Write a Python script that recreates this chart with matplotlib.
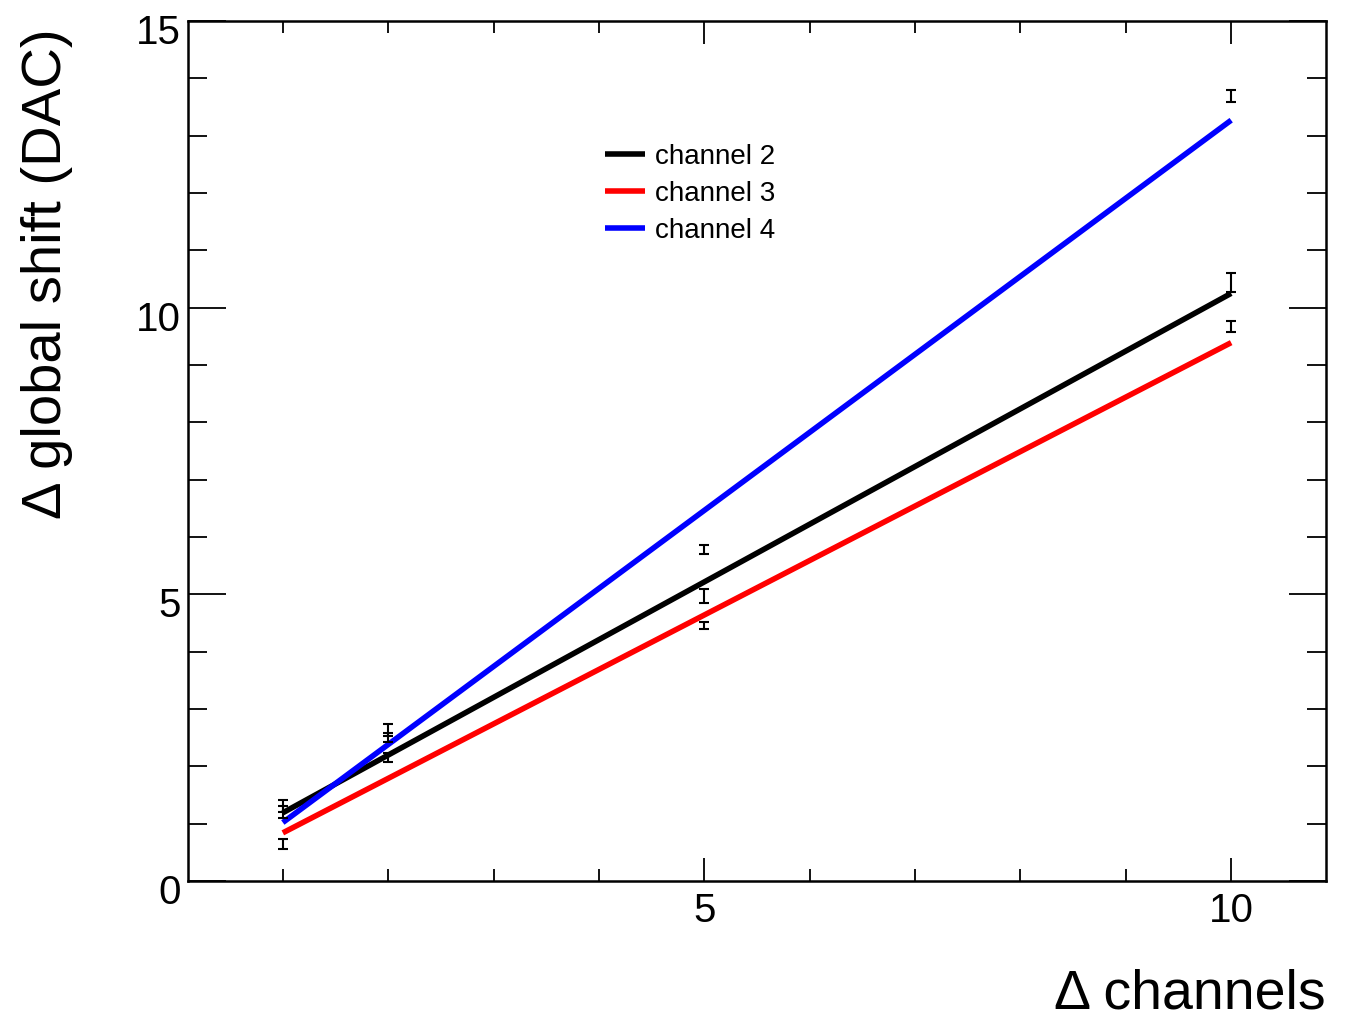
import matplotlib.pyplot as plt
import matplotlib.transforms as mtransforms
from matplotlib.ticker import MultipleLocator

plt.rcParams['font.family'] = ['Liberation Sans', 'DejaVu Sans']

# measured points (delta channels vs delta global shift)
x_pts = [1, 2, 5, 10]
ch2_pts = [1.20, 2.50, 4.97, 10.44]
ch2_err = [0.10, 0.08, 0.12, 0.16]
ch3_pts = [0.645, 2.15, 4.45, 9.67]
ch3_err = [0.08, 0.08, 0.06, 0.10]
ch4_pts = [1.31, 2.63, 5.78, 13.69]
ch4_err = [0.10, 0.10, 0.08, 0.10]

# linear fits, drawn between x = 1 and x = 10
fit_x = [1, 10]
ch2_fit = [1.19, 10.25]
ch3_fit = [0.84, 9.39]
ch4_fit = [1.02, 13.27]

fig = plt.figure(figsize=(13.56, 10.22), dpi=100)
ax = fig.add_axes([188/1356, 1-881/1022, (1326-188)/1356, (881-21)/1022])

ax.plot(fit_x, ch2_fit, color='black', lw=4, label='channel 2', solid_capstyle='butt')
ax.plot(fit_x, ch3_fit, color='#ff0000', lw=4, label='channel 3', solid_capstyle='butt')
ax.plot(fit_x, ch4_fit, color='#0000ff', lw=4, label='channel 4', solid_capstyle='butt')

for pts, err in [(ch2_pts, ch2_err), (ch3_pts, ch3_err), (ch4_pts, ch4_err)]:
    ax.errorbar(x_pts, pts, yerr=err, fmt='none', ecolor='black',
                elinewidth=1.5, capsize=3.6, capthick=1.5, zorder=3)

ax.set_xlim(0.1, 10.9)
ax.set_ylim(0, 15)
ax.xaxis.set_minor_locator(MultipleLocator(1))
ax.yaxis.set_minor_locator(MultipleLocator(1))
ax.set_xticks([5, 10])
ax.set_yticks([0, 5, 10, 15])

ax.tick_params(axis='x', which='major', direction='in', length=16.5, width=1.3,
               top=True, bottom=True, labelsize=29, pad=8)
ax.tick_params(axis='x', which='minor', direction='in', length=8.3, width=1.3,
               top=True, bottom=True)
ax.tick_params(axis='y', which='major', direction='in', length=27, width=1.3,
               left=True, right=True, labelsize=29, pad=5)
ax.tick_params(axis='y', which='minor', direction='in', length=13.7, width=1.3,
               left=True, right=True)
for sp in ax.spines.values():
    sp.set_linewidth(1.8)

# ROOT-ish label placement: y labels sit a bit low
off = mtransforms.ScaledTranslation(0, -8/100, fig.dpi_scale_trans)
for lab in ax.get_yticklabels():
    lab.set_transform(lab.get_transform() + off)

fig.text(1326/1356, 1-994/1022, '\u0394 channels', fontsize=40,
         ha='right', va='center')
fig.text(47/1356, 1-28/1022, '\u0394 global shift (DAC)', fontsize=40.5,
         rotation=90, ha='center', va='top')

ax.legend(loc='upper left', bbox_to_anchor=(605/1356, 1-144/1022),
          bbox_transform=fig.transFigure, frameon=False, fontsize=20,
          handlelength=1.45, handletextpad=0.36, labelspacing=0.4,
          borderpad=0, borderaxespad=0)

fig.savefig('out.png', dpi=100)
